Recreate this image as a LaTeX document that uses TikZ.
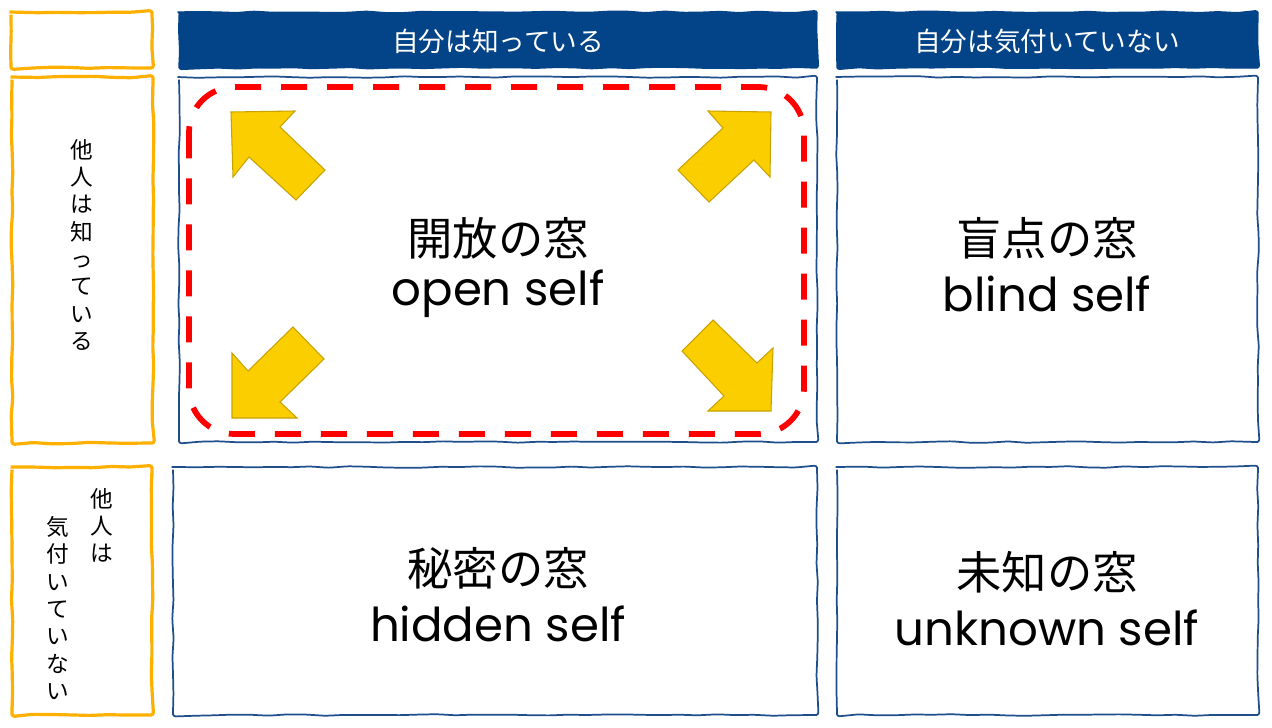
\documentclass[tikz,border=0pt]{standalone}
\usepackage{fontspec}
\newfontfamily\jp{Noto Sans CJK JP}
\newfontfamily\en{Poppins}
\usetikzlibrary{decorations.pathmorphing}
\definecolor{hdrblue}{HTML}{034387}
\definecolor{cellblue}{HTML}{1F4E8C}
\definecolor{lblorange}{HTML}{FDB000}
\definecolor{arrowfill}{HTML}{FBCE00}
\definecolor{arrowedge}{HTML}{C9A200}
\definecolor{dashred}{HTML}{FF0000}
\pgfmathsetseed{7}
\tikzset{
  sketch/.style={decorate, decoration={random steps, segment length=14pt, amplitude=0.6pt}, rounded corners=2pt},
  lbl/.style={sketch, draw=lblorange, line width=2.4pt, fill=white},
  cell/.style={sketch, draw=cellblue, line width=1.3pt, fill=white},
  hdr/.style={sketch, draw=hdrblue, fill=hdrblue, line width=1pt},
  hdrtext/.style={text=white, font=\jp\fontsize{20}{23}\selectfont},
  jptitle/.style={font=\jp\fontsize{34}{38}\selectfont},
  entitle/.style={font=\en\fontsize{35}{40}\selectfont},
  vtext/.style={align=center, font=\jp\fontsize{17}{20.5}\selectfont, inner sep=0pt},
  bigarrow/.style={fill=arrowfill, draw=arrowedge, line width=0.8pt, line join=miter},
  openzone/.style={draw=dashred, line width=4.3pt, dash pattern=on 19.5pt off 15pt, rounded corners=34pt},
}
\begin{document}
\begin{tikzpicture}[x=0.75pt,y=-0.75pt]
\useasboundingbox (0,0) rectangle (1272,728);
% label column
\draw[lbl] (11,12) rectangle (152,68);
\draw[lbl] (12,77) rectangle (153,443);
\draw[lbl] (12,467) rectangle (152,715);
% headers
\draw[hdr] (179,12) rectangle (817,68);
\draw[hdr] (837,12) rectangle (1258,68);
\node[hdrtext] (h1) at (498,41) {自分は知っている};
\node[hdrtext] (h2) at (1047,41) {自分は気付いていない};
% cells
\draw[cell] (179,77) rectangle (817,442);
\draw[cell] (837,77) rectangle (1258,442);
\draw[cell] (173,467) rectangle (817,715);
\draw[cell] (837,467) rectangle (1258,715);
% open zone
\draw[openzone] (189,87) rectangle (804,434);
% arrows
\draw[bigarrow] (231,112) -- (295,111) -- (280,127) -- (325,170) -- (296,200) -- (249,157) -- (233,177) -- cycle;
\draw[bigarrow] (771,112) -- (708,111) -- (723,128) -- (678,170) -- (709,202) -- (754,160) -- (770,177) -- cycle;
\draw[bigarrow] (232,418) -- (297,418) -- (280,402) -- (324,359) -- (293,327) -- (248,371) -- (232,353) -- cycle;
\draw[bigarrow] (771,411) -- (708,411) -- (724,396) -- (682,351) -- (713,320) -- (757,363) -- (773,348) -- cycle;
% vertical labels
\node[vtext, anchor=north] (v1) at (82,139) {他\\人\\は\\知\\っ\\て\\い\\る};
\node[vtext, anchor=north] (v2) at (102,488) {他\\人\\は};
\node[vtext, anchor=north] (v3) at (58,516) {気\\付\\い\\て\\い\\な\\い};
% cell titles
\node[jptitle] (o1) at (498,238) {開放の窓};
\node[entitle] (o2) at (498,294) {open self};
\node[jptitle] (b1) at (1047,238) {盲点の窓};
\node[entitle] (b2) at (1047,294) {blind self};
\node[jptitle] (s1) at (498,568) {秘密の窓};
\node[entitle] (s2) at (498,624) {hidden self};
\node[jptitle] (u1) at (1047,572) {未知の窓};
\node[entitle] (u2) at (1047,628) {unknown self};
\end{tikzpicture}
\end{document}
